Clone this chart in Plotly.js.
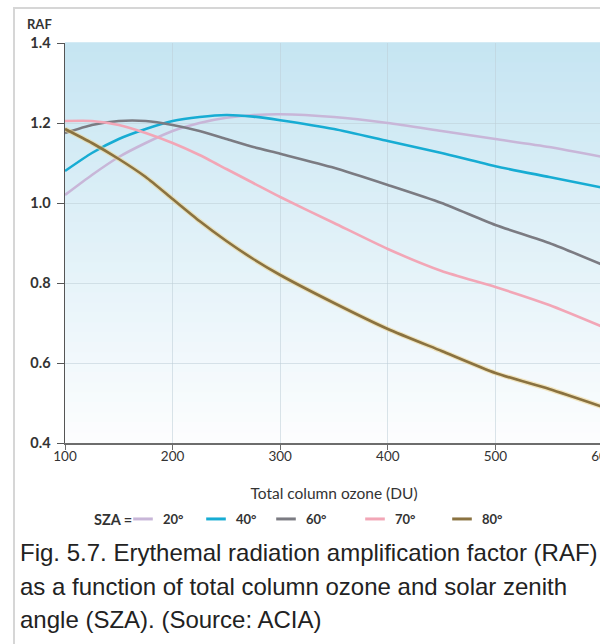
<!DOCTYPE html>
<html>
<head>
<meta charset="utf-8">
<script src="https://cdn.plot.ly/plotly-3.0.1.min.js"></script>
<style>
  html, body { margin: 0; padding: 0; width: 600px; height: 644px; overflow: hidden; background: #ffffff; }
  #frame { position: absolute; left: 13px; top: 7px; width: 640px; height: 700px;
           border-left: 2px solid #d6d6d6; border-top: 2px solid #d6d6d6; }
  #chart { position: absolute; left: 0; top: 0; width: 640px; height: 540px; }
  #caption { position: absolute; left: 20px; top: 536px; width: 590px;
             font-family: "Liberation Sans", Arial, sans-serif; font-size: 24px;
             line-height: 33.5px; color: #222222; white-space: nowrap; }
</style>
</head>
<body>
<div id="frame"></div>
<div id="chart"></div>
<div id="caption">Fig. 5.7. Erythemal radiation amplification factor (RAF)<br>as a function of total column ozone and solar zenith<br>angle (SZA). (Source: ACIA)</div>
<script>
// ---- data ----
const ozone = [100, 125, 150, 175, 200, 225, 250, 275, 300, 350, 400, 450, 500, 550, 600];
const raf20 = [1.02, 1.07, 1.115, 1.15, 1.18, 1.20, 1.213, 1.22, 1.222, 1.215, 1.20, 1.18, 1.16, 1.14, 1.115];
const raf40 = [1.08, 1.125, 1.16, 1.185, 1.205, 1.215, 1.22, 1.216, 1.207, 1.185, 1.155, 1.125, 1.092, 1.065, 1.038];
const raf60 = [1.175, 1.195, 1.205, 1.205, 1.195, 1.18, 1.16, 1.14, 1.123, 1.088, 1.045, 1.0, 0.945, 0.9, 0.845];
const raf70 = [1.205, 1.205, 1.195, 1.175, 1.15, 1.12, 1.085, 1.05, 1.015, 0.95, 0.885, 0.83, 0.79, 0.745, 0.69];
const raf80 = [1.185, 1.15, 1.11, 1.065, 1.01, 0.955, 0.905, 0.86, 0.82, 0.75, 0.685, 0.63, 0.575, 0.535, 0.49];
const seriesNames = ['20°', '40°', '60°', '70°', '80°'];
const xTicks = [100, 200, 300, 400, 500, 600];
const yTicks = [0.4, 0.6, 0.8, 1.0, 1.2, 1.4];

// ---- styling ----
const colors = ['#c8b6d8', '#17acd3', '#7b7b82', '#f2a6b6', '#8a7240'];
const halo = [null, null, null, null, 'rgba(238,212,140,0.55)'];
const allY = [raf20, raf40, raf60, raf70, raf80];
const legendIds = ['legend', 'legend2', 'legend3', 'legend4', 'legend5'];
const FONT = 'Lato, "Open Sans", sans-serif';

const traces = [];
allY.forEach((ys, i) => {
  if (halo[i]) {
    traces.push({
      type: 'scatter', mode: 'lines', x: ozone, y: ys,
      line: { color: halo[i], width: 5, shape: 'spline', smoothing: 0.6 },
      showlegend: false, hoverinfo: 'skip'
    });
  }
  traces.push({
    type: 'scatter', mode: 'lines', x: ozone, y: ys,
    line: { color: colors[i], width: 2.6, shape: 'spline', smoothing: 0.6 },
    showlegend: false, legendgroup: 'g' + i, hoverinfo: 'x+y', name: seriesNames[i]
  });
});
// legend entries (short dash symbol)
allY.forEach((ys, i) => {
  traces.push({
    type: 'scatter', mode: 'markers', x: [null], y: [null], name: seriesNames[i],
    legend: legendIds[i], legendgroup: 'g' + i, showlegend: true,
    marker: { symbol: 'line-ew', size: 14, line: { color: colors[i], width: 3 } }
  });
});

// vertical gradient background in the plot area
const shapes = [];
const N = 40;
const bgTop = [198, 229, 242], bgBot = [252, 253, 254];
for (let k = 0; k < N; k++) {
  const t = k / (N - 1);
  const c = bgTop.map((v, j) => Math.round(v + (bgBot[j] - v) * t));
  shapes.push({
    type: 'rect', xref: 'x domain', yref: 'y domain', layer: 'below',
    x0: 0, x1: 1, y0: 1 - (k + 1) / N, y1: 1 - k / N + 0.002,
    fillcolor: `rgb(${c[0]},${c[1]},${c[2]})`, line: { width: 0 }
  });
}

const W = 640, H = 540;
const ML = 65, MT = 43, PW = 538, PH = 400;
const px2x = p => (p - ML) / PW;          // page pixel -> paper x
const py2y = p => (MT + PH - p) / PH;     // page pixel -> paper y

const legendBase = {
  orientation: 'h', yanchor: 'middle', xanchor: 'left', y: py2y(519),
  bgcolor: 'rgba(0,0,0,0)', borderwidth: 0,
  font: { family: FONT, size: 13, color: '#333333', weight: 700 },
  itemclick: false, itemdoubleclick: false, tracegroupgap: 0
};
const legendPx = [123, 196, 266, 355, 442];

const layout = {
  width: W, height: H,
  margin: { l: ML, r: W - ML - PW, t: MT, b: H - MT - PH, autoexpand: false },
  paper_bgcolor: 'rgba(0,0,0,0)',
  plot_bgcolor: 'rgba(0,0,0,0)',
  font: { family: FONT, size: 12, color: '#333333' },
  shapes: shapes,
  xaxis: {
    range: [100, 600], tickvals: xTicks, ticktext: xTicks.map(String),
    showgrid: true, gridcolor: 'rgba(190,205,215,0.55)', gridwidth: 1,
    showline: true, linecolor: '#6d6d6d', linewidth: 1.5,
    ticks: 'outside', ticklen: 5, tickcolor: '#6d6d6d', tickwidth: 1,
    ticklabelstandoff: -5,
    zeroline: false, tickfont: { family: FONT, size: 13.5, color: '#333333' },
    title: { text: 'Total column ozone (DU)', standoff: 25, font: { family: FONT, size: 15.5, color: '#333333' } },
    fixedrange: true
  },
  yaxis: {
    range: [0.4, 1.4], tickvals: yTicks, ticktext: yTicks.map(v => v.toFixed(1)),
    showgrid: true, gridcolor: 'rgba(190,205,215,0.55)', gridwidth: 1,
    showline: true, linecolor: '#555555', linewidth: 1.5,
    ticks: 'outside', ticklen: 7, tickcolor: '#555555', tickwidth: 1,
    ticklabelstandoff: 3,
    zeroline: false, tickfont: { family: FONT, size: 14.5, color: '#333333', weight: 700 },
    fixedrange: true
  },
  annotations: [
    { text: 'RAF', xref: 'paper', yref: 'paper', x: px2x(25), y: py2y(24),
      xanchor: 'left', yanchor: 'middle', showarrow: false,
      font: { family: FONT, size: 13, color: '#333333', weight: 700 } },
    { text: 'SZA\u00A0=', xref: 'paper', yref: 'paper', x: px2x(92), y: py2y(519),
      xanchor: 'left', yanchor: 'middle', showarrow: false,
      font: { family: FONT, size: 14.5, color: '#333333', weight: 700 } }
  ],
  legend: Object.assign({}, legendBase, { x: px2x(legendPx[0]) }),
  legend2: Object.assign({}, legendBase, { x: px2x(legendPx[1]) }),
  legend3: Object.assign({}, legendBase, { x: px2x(legendPx[2]) }),
  legend4: Object.assign({}, legendBase, { x: px2x(legendPx[3]) }),
  legend5: Object.assign({}, legendBase, { x: px2x(legendPx[4]) })
};

Plotly.newPlot('chart', traces, layout, { displayModeBar: false, staticPlot: true });
</script>
</body>
</html>
